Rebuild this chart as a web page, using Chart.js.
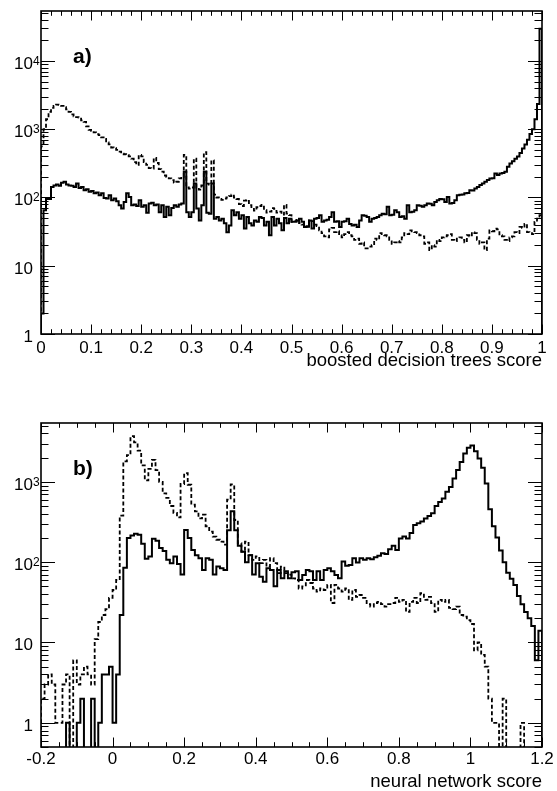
<!DOCTYPE html>
<html>
<head>
<meta charset="utf-8">
<script src="https://cdn.jsdelivr.net/npm/chart.js@4/dist/chart.umd.min.js"></script>
<style>
  html, body { margin: 0; padding: 0; background: #fff; overflow: hidden; }
  canvas { position: absolute; left: 0; }
  #bdt-chart { top: 0; }
  #nn-chart { top: 395px; }
</style>
</head>
<body>
<canvas id="bdt-chart" width="557" height="395"></canvas>
<canvas id="nn-chart" width="557" height="410"></canvas>
<script>
// a) boosted decision trees score, 200 bins from 0 to 1
const bdtRange = [0, 1];
const bdtSolid = [
    2, 65, 95, 95, 143, 150, 155, 148, 165, 170,
    155, 150, 148, 143, 160, 138, 143, 128, 132, 121,
    124, 115, 118, 108, 115, 98, 97, 108, 91, 97,
    88, 77, 69, 86, 115, 102, 77, 79, 75, 91,
    73, 77, 60, 82, 84, 77, 79, 61, 77, 52,
    73, 55, 70, 77, 73, 79, 82, 238, 61, 52,
    61, 160, 69, 46, 77, 238, 60, 58, 160, 49,
    52, 46, 49, 42, 31, 39, 65, 55, 61, 49,
    55, 35, 52, 42, 39, 46, 44, 52, 50, 39,
    44, 28, 52, 39, 49, 42, 33, 50, 42, 49,
    44, 44, 46, 49, 44, 37, 38, 46, 35, 49,
    50, 55, 44, 46, 47, 52, 61, 44, 45, 37,
    44, 45, 49, 41, 39, 40, 37, 46, 55, 54,
    52, 44, 49, 50, 52, 55, 58, 57, 73, 55,
    56, 65, 61, 52, 53, 49, 77, 61, 62, 65,
    77, 76, 73, 77, 82, 81, 77, 86, 91, 95,
    94, 86, 102, 82, 83, 91, 108, 110, 111, 115,
    116, 128, 127, 135, 143, 152, 160, 170, 180, 190,
    192, 225, 213, 225, 228, 238, 283, 316, 340, 370,
    400, 450, 520, 600, 700, 850, 1000, 1400, 2350, 29600
];
const bdtDashed = [
    560, 1000, 1400, 1800, 2050, 2200, 2300, 2280, 2200, 2100,
    1950, 1800, 1650, 1550, 1500, 1480, 1350, 1280, 1100, 980,
    950, 900, 850, 820, 760, 720, 640, 600, 540, 530,
    500, 470, 440, 430, 420, 400, 370, 330, 300, 420,
    400, 330, 300, 270, 265, 380, 320, 260, 240, 210,
    200, 190, 180, 165, 170, 190, 200, 420, 140, 135,
    140, 370, 140, 130, 150, 460, 160, 155, 350, 110,
    100, 95, 92, 96, 100, 105, 110, 100, 95, 80,
    75, 90, 92, 77, 68, 64, 72, 75, 78, 65,
    60, 62, 70, 68, 60, 62, 56, 78, 58, 55,
    44, 45, 47, 42, 40, 39, 37, 46, 45, 40,
    38, 33, 30, 27, 26, 34, 36, 31, 32, 28,
    26, 29, 31, 28, 27, 24, 25, 21, 22, 18,
    18, 19, 20, 25, 24, 30, 29, 28, 27, 24,
    21, 22, 23, 22, 26, 30, 29, 33, 32, 31,
    30, 28, 27, 21, 22, 17, 20, 19, 24, 23,
    26, 27, 28, 29, 24, 23, 25, 26, 24, 22,
    28, 27, 31, 30, 24, 21, 22, 17, 25, 33,
    32, 35, 34, 28, 27, 24, 23, 26, 27, 31,
    30, 37, 36, 41, 31, 30, 29, 44, 49, 55
];
const bdtXTicks = [0, 0.1, 0.2, 0.3, 0.4, 0.5, 0.6, 0.7, 0.8, 0.9, 1];
const bdtYTicks = [1, 10, 100, 1000, 10000];
const bdtYRange = [1, 54000];

// b) neural network score, 140 bins from -0.2 to 1.2
const nnRange = [-0.2, 1.2];
const nnSolid = [
    0, 0, 0, 0, 0, 0, 0, 1, 0, 0,
    1, 2, 0, 0, 2, 0, 1, 4, 4, 5,
    1, 4, 22, 85, 200, 215, 225, 220, 170, 110,
    118, 195, 185, 150, 138, 107, 97, 118, 95, 70,
    252, 200, 142, 122, 112, 80, 112, 107, 70, 88,
    84, 80, 250, 430, 250, 160, 135, 100, 122, 70,
    97, 66, 57, 84, 80, 50, 80, 63, 77, 63,
    75, 77, 60, 69, 80, 77, 60, 77, 60, 80,
    84, 77, 69, 63, 102, 90, 92, 112, 99, 112,
    107, 112, 109, 115, 120, 129, 126, 145, 160, 142,
    197, 208, 197, 230, 290, 305, 320, 350, 375, 405,
    500, 560, 620, 750, 860, 1100, 1400, 1770, 2250, 2650,
    2840, 2400, 1950, 1500, 950, 455, 280, 203, 140, 100,
    74, 62, 52, 38, 30, 24, 20, 16, 6, 14
];
const nnDashed = [
    2, 3, 4, 3, 1, 1, 3, 4, 0, 6,
    3, 4, 5, 4, 3, 11, 18, 22, 26, 36,
    45, 60, 380, 1800, 2150, 3700, 3100, 2450, 1600, 1040,
    1450, 1880, 1400, 1000, 720, 630, 500, 410, 360, 940,
    1280, 920, 520, 430, 350, 390, 280, 240, 208, 190,
    180, 165, 600, 930, 335, 172, 135, 180, 122, 107,
    118, 97, 107, 88, 112, 97, 73, 88, 73, 70,
    63, 60, 47, 50, 60, 55, 47, 43, 47, 45,
    52, 31, 52, 47, 43, 47, 34, 45, 37, 39,
    36, 30, 28, 31, 32, 30, 28, 30, 31, 36,
    32, 34, 24, 32, 36, 31, 41, 34, 37, 31,
    24, 34, 32, 34, 27, 26, 28, 22, 21, 19,
    17, 8, 10, 7, 5, 2, 1, 1, 0, 2,
    0, 0, 0, 0, 1, 0, 0, 0, 0, 0
];
const nnXTicks = [-0.2, 0, 0.2, 0.4, 0.6, 0.8, 1, 1.2];
const nnYTicks = [1, 10, 100, 1000];
const nnYRange = [0.5, 5400];

const FONT = '"Liberation Sans", Arial, Helvetica, sans-serif';
const EMPTY = 1e-3; // empty bins drop below the frame, like ROOT does on log axes

Chart.defaults.font.family = FONT;
Chart.defaults.color = '#000';

// build step points from bin contents
function histPoints(counts, range) {
    const [lo, hi] = range;
    const w = (hi - lo) / counts.length;
    const pts = [{ x: lo, y: EMPTY }];
    counts.forEach((c, i) => pts.push({ x: lo + i * w, y: c > 0 ? c : EMPTY }));
    const last = counts[counts.length - 1];
    pts.push({ x: hi, y: last > 0 ? last : EMPTY });
    pts.push({ x: hi, y: EMPTY });
    return pts;
}

function superscript(n) {
    return String(n);
}

// frame, inward ticks on all four sides, y labels and the panel letter
const rootFrame = {
    id: 'rootFrame',
    afterDatasetsDraw(chart, args, opts) {
        const { ctx, chartArea: a, scales: { x, y } } = chart;
        ctx.save();
        ctx.strokeStyle = '#000';
        ctx.lineWidth = 1;
        ctx.beginPath();

        const n0 = Math.round(x.min / opts.xMinor);
        const n1 = Math.round(x.max / opts.xMinor);
        for (let k = n0; k <= n1; k++) {
            const v = k * opts.xMinor;
            const r = v / opts.xMajor;
            const major = Math.abs(r - Math.round(r)) < 1e-6;
            const len = major ? 9.5 : 4.8;
            const px = Math.round(x.getPixelForValue(v)) + 0.5;
            ctx.moveTo(px, a.bottom); ctx.lineTo(px, a.bottom - len);
            ctx.moveTo(px, a.top); ctx.lineTo(px, a.top + len);
        }

        const e0 = Math.floor(Math.log10(y.min));
        const e1 = Math.ceil(Math.log10(y.max));
        for (let e = e0; e <= e1; e++) {
            for (let m = 1; m <= 9; m++) {
                const v = m * Math.pow(10, e);
                if (v < y.min * 0.999 || v > y.max * 1.001) continue;
                const len = m === 1 ? 14 : 7.5;
                const py = Math.round(y.getPixelForValue(v)) + 0.5;
                ctx.moveTo(a.left, py); ctx.lineTo(a.left + len, py);
                ctx.moveTo(a.right, py); ctx.lineTo(a.right - len, py);
            }
        }
        ctx.stroke();

        ctx.lineWidth = 1.6;
        ctx.strokeRect(a.left, a.top, a.right - a.left, a.bottom - a.top);

        ctx.fillStyle = '#000';
        opts.yLabels.forEach(v => {
            const py = y.getPixelForValue(v);
            const exp = Math.round(Math.log10(v));
            ctx.font = '17px ' + FONT;
            ctx.textAlign = 'right';
            ctx.textBaseline = 'alphabetic';
            ctx.fillText(exp === 0 ? '1' : '10', a.left - 8, py + 8);
            if (exp >= 2) {
                ctx.font = '12px ' + FONT;
                ctx.textAlign = 'left';
                ctx.fillText(superscript(exp), a.left - 8, py + 4);
            }
        });

        ctx.font = 'bold 21px ' + FONT;
        ctx.textAlign = 'left';
        ctx.textBaseline = 'alphabetic';
        ctx.fillText(opts.label, a.left + 32, a.top + 52);
        ctx.restore();
    }
};

function makeChart(canvasId, cfg) {
    return new Chart(document.getElementById(canvasId), {
        type: 'line',
        data: {
            datasets: [
                {
                    data: histPoints(cfg.solid, cfg.range),
                    borderColor: '#000',
                    borderWidth: 2,
                    stepped: true
                },
                {
                    data: histPoints(cfg.dashed, cfg.range),
                    borderColor: '#000',
                    borderWidth: 1.8,
                    borderDash: [4, 2.5],
                    stepped: true
                }
            ]
        },
        options: {
            responsive: false,
            animation: false,
            devicePixelRatio: 1,
            parsing: false,
            elements: { point: { radius: 0 }, line: { tension: 0, fill: false, borderJoinStyle: 'miter' } },
            layout: { padding: { left: 0, right: 15, top: cfg.top, bottom: 0 } },
            plugins: {
                legend: { display: false },
                tooltip: { enabled: false },
                rootFrame: { xMajor: cfg.xMajor, xMinor: cfg.xMinor, yLabels: cfg.yTicks, label: cfg.label }
            },
            scales: {
                x: {
                    type: 'linear',
                    min: cfg.range[0],
                    max: cfg.range[1],
                    grid: { display: false, drawTicks: false },
                    border: { display: false },
                    afterBuildTicks: s => { s.ticks = cfg.xTicks.map(v => ({ value: v })); },
                    afterFit: s => { s.height = cfg.xHeight; },
                    ticks: {
                        autoSkip: false,
                        maxRotation: 0,
                        padding: cfg.labelPad,
                        font: { size: 17 },
                        callback: v => String(Math.round(v * 10) / 10)
                    },
                    title: {
                        display: true,
                        text: cfg.title,
                        align: 'end',
                        font: { size: 18.5 },
                        padding: { top: 0, bottom: cfg.titlePad }
                    }
                },
                y: {
                    type: 'logarithmic',
                    min: cfg.yRange[0],
                    max: cfg.yRange[1],
                    grid: { display: false, drawTicks: false },
                    border: { display: false },
                    afterBuildTicks: s => { s.ticks = cfg.yTicks.map(v => ({ value: v })); },
                    afterFit: s => { s.width = 41; },
                    ticks: { display: false }
                }
            }
        },
        plugins: [rootFrame]
    });
}

makeChart('bdt-chart', {
    solid: bdtSolid, dashed: bdtDashed, range: bdtRange,
    xTicks: bdtXTicks, yTicks: bdtYTicks, yRange: bdtYRange,
    xMajor: 0.1, xMinor: 0.02, label: 'a)',
    title: 'boosted decision trees score',
    top: 11, xHeight: 61, labelPad: 4, titlePad: 23
});

makeChart('nn-chart', {
    solid: nnSolid, dashed: nnDashed, range: nnRange,
    xTicks: nnXTicks, yTicks: nnYTicks, yRange: nnYRange,
    xMajor: 0.2, xMinor: 0.05, label: 'b)',
    title: 'neural network score',
    top: 28, xHeight: 58, labelPad: 2, titlePad: 12
});
</script>
</body>
</html>
